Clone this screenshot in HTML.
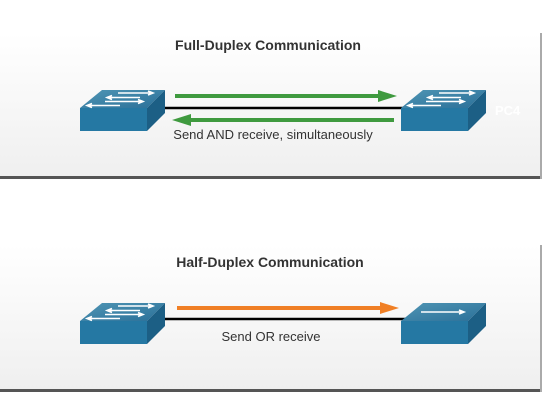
<!DOCTYPE html>
<html><head><style>
body{margin:0;width:552px;height:402px;background:#fff;overflow:hidden;font-family:"Liberation Sans",Arial,sans-serif}
</style></head><body>
<svg width="552" height="402" xmlns="http://www.w3.org/2000/svg">
<defs>
<linearGradient id="bg" x1="0" y1="0" x2="0" y2="1"><stop offset="0" stop-color="#ffffff"/><stop offset="1" stop-color="#efefef"/></linearGradient>
<linearGradient id="top" x1="0" y1="0" x2="1" y2="1"><stop offset="0" stop-color="#4f95b4"/><stop offset="1" stop-color="#2b7099"/></linearGradient>
<g id="sw">
<polygon points="0,18 22,0 85,0 67,18" fill="url(#top)"/>
<rect x="0" y="18" width="67" height="23" fill="#2578a3"/>
<polygon points="67,18 85,0 85,23 67,41" fill="#1c5f85"/>
</g>
<g id="ar">
<path d="M38,3 H72 M68,1 l5,2 -5,2" stroke="#fff" stroke-width="1.6" fill="none"/>
<path d="M60,7.5 H28 M32,5.5 l-5,2 5,2" stroke="#fff" stroke-width="1.6" fill="none"/>
<path d="M25,11.5 H62 M58,9.5 l5,2 -5,2" stroke="#fff" stroke-width="1.6" fill="none"/>
<path d="M40,15.5 H8 M12,13.5 l-5,2 5,2" stroke="#fff" stroke-width="1.6" fill="none"/>
</g>
</defs>
<rect x="0" y="33" width="541" height="145" fill="url(#bg)"/>
<rect x="0" y="176" width="541" height="3" fill="#555"/>
<rect x="540" y="33" width="2" height="146" fill="#aaa"/>
<rect x="0" y="245" width="541" height="145" fill="url(#bg)"/>
<rect x="0" y="389" width="541" height="3" fill="#555"/>
<rect x="540" y="245" width="2" height="147" fill="#aaa"/>

<text x="268" y="50" text-anchor="middle" font-size="14" font-weight="bold" fill="#333">Full-Duplex Communication</text>
<line x1="160" y1="108" x2="406" y2="108" stroke="#000" stroke-width="2.5"/>
<use href="#sw" x="80" y="90"/><use href="#ar" x="80" y="90"/>
<use href="#sw" x="401" y="90"/><use href="#ar" x="401" y="90"/>
<line x1="175" y1="96" x2="384" y2="96" stroke="#3f9a3f" stroke-width="4"/>
<polygon points="378,90 397,96 378,102" fill="#3f9a3f"/>
<line x1="189" y1="120" x2="394" y2="120" stroke="#3f9a3f" stroke-width="4"/>
<polygon points="191,114 172,120 191,126" fill="#3f9a3f"/>
<text x="273" y="139" text-anchor="middle" font-size="13" fill="#333">Send AND receive, simultaneously</text>
<text x="495" y="115" font-size="13" font-weight="bold" fill="#fff">PC4</text>

<text x="270" y="267" text-anchor="middle" font-size="14" font-weight="bold" fill="#333">Half-Duplex Communication</text>
<line x1="160" y1="319" x2="406" y2="319" stroke="#000" stroke-width="2.5"/>
<use href="#sw" x="80" y="303"/><use href="#ar" x="80" y="303"/>
<use href="#sw" x="401" y="303"/>
<path d="M421,312 H463 M459,310 l5,2 -5,2" stroke="#fff" stroke-width="1.6" fill="none"/>
<line x1="177" y1="308" x2="386" y2="308" stroke="#f07f25" stroke-width="4"/>
<polygon points="380,302 399,308 380,314" fill="#f07f25"/>
<text x="271" y="341" text-anchor="middle" font-size="13" fill="#333">Send OR receive</text>
</svg>
</body></html>
